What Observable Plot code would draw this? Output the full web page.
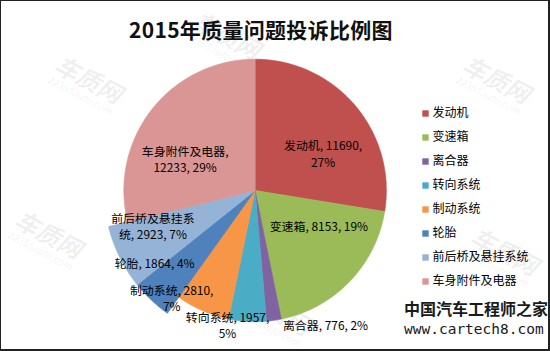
<!DOCTYPE html>
<html>
<head>
<meta charset="utf-8">
<script src="https://cdn.jsdelivr.net/npm/d3@7"></script>
<script src="https://cdn.jsdelivr.net/npm/@observablehq/plot@0.6"></script>
<style>
  body { margin: 0; background: #fff; }
  #frame { position: relative; width: 550px; height: 351px; box-sizing: border-box; border: 1px solid #222; border-bottom-width: 2px; border-right-width: 2px; overflow: hidden; background: #fff; font-family: "Noto Sans CJK SC", sans-serif; }
  #pie, #legend, #wm { position: absolute; }
  #pie, #wm { left: 0; top: 0; }
  #legend { left: 410px; top: 95px; }
  #title { position: absolute; left: 0; top: 13px; width: 520px; text-align: center; font-size: 21px; font-weight: bold; color: #111; letter-spacing: 0.3px; }
  #brand { position: absolute; left: 403px; top: 296px; width: 145px; color: #1a1a1a; }
  #brand .cn { font-size: 16px; font-weight: bold; line-height: 22px; font-family: "Noto Sans CJK SC", serif; }
  #brand .url { font-size: 14.5px; font-family: "DejaVu Sans Mono", "Liberation Mono", monospace; line-height: 20px; }
</style>
</head>
<body>
<div id="frame"></div>
<script>
// ---- data ----
const categories = ["发动机", "变速箱", "离合器", "转向系统", "制动系统", "轮胎", "前后桥及悬挂系统", "车身附件及电器"];
const values = [11690, 8153, 776, 1957, 2810, 1864, 2923, 12233];
const percents = [27, 19, 2, 5, 7, 4, 7, 29];
const title = "2015年质量问题投诉比例图";

// ---- styles / layout ----
const colors = ["#C0504D", "#9BBB59", "#8064A2", "#4BACC6", "#F79646", "#4F81BD", "#95B3D7", "#D99694"];
const pie = { cx: 255, cy: 190, r: 132 };
const radiusScale = { "轮胎": 1.15, "前后桥及悬挂系统": 1.15 };
const labelLayout = {
  "发动机":         { k: 0.6,  dx: 8,   dy: 14,  wrap: 11 },
  "变速箱":         { k: 0.6,  dx: 7,   dy: -19 },
  "离合器":         { k: 1.0,  dx: 9,   dy: 4,   anchor: "start" },
  "转向系统":       { k: 1.0,  dx: -20, dy: 3,   wrap: 11 },
  "制动系统":       { k: 0.85, dx: -39, dy: 5,   wrap: 11 },
  "轮胎":           { k: 0.75, dx: -33, dy: 1 },
  "前后桥及悬挂系统": { k: 0.75, dx: -14, dy: -8,  wrap: 7 },
  "车身附件及电器":   { k: 0.6,  dx: -8,  dy: 17,  wrap: 8 }
};
const font = "'Noto Sans CJK SC', sans-serif";

const frame = document.getElementById("frame");

// ---- faint watermarks (behind the chart), as rotated SVG text ----
const wmSpots = [[62, 50], [470, 50], [270, 148], [22, 205], [478, 222], [250, 282], [200, 6]];
const ns = "http://www.w3.org/2000/svg";
const wm = document.createElementNS(ns, "svg");
wm.setAttribute("id", "wm");
wm.setAttribute("width", 550);
wm.setAttribute("height", 351);
for (const [l, tp] of wmSpots) {
  const g = document.createElementNS(ns, "g");
  g.setAttribute("transform", `translate(${l},${tp}) rotate(28)`);
  g.setAttribute("fill", "#000");
  g.setAttribute("fill-opacity", "0.07");
  g.setAttribute("font-style", "italic");
  g.setAttribute("font-family", font);
  const a = document.createElementNS(ns, "text");
  a.setAttribute("y", 22); a.setAttribute("font-size", 24); a.setAttribute("font-weight", "bold");
  a.textContent = "车质网";
  const b = document.createElementNS(ns, "text");
  b.setAttribute("y", 35); b.setAttribute("font-size", 10);
  b.textContent = "12365auto.com";
  g.appendChild(a); g.appendChild(b);
  wm.appendChild(g);
}
frame.appendChild(wm);

// ---- pie geometry from data ----
const rows = categories.map((c, i) => ({ category: c, value: values[i], pct: percents[i] }));
const arcs = d3.pie().sort(null).value(d => d.value)(rows);
const slicePts = arcs.flatMap(a => {
  const s = radiusScale[a.data.category] ?? 1;
  const n = Math.max(2, Math.ceil((a.endAngle - a.startAngle) / (Math.PI / 360)));
  const pts = [{ category: a.data.category, x: 0, y: 0 }];
  for (let i = 0; i <= n; i++) {
    const t = a.startAngle + (a.endAngle - a.startAngle) * i / n;
    pts.push({ category: a.data.category, x: s * Math.sin(t), y: s * Math.cos(t) });
  }
  pts.push({ category: a.data.category, x: 0, y: 0 });
  return pts;
});

const labels = arcs.map(a => {
  const c = a.data.category;
  const L = labelLayout[c];
  const mid = (a.startAngle + a.endAngle) / 2;
  let s = `${c}, ${a.data.value}, ${a.data.pct}%`;
  if (L.wrap) s = s.slice(0, L.wrap).trim() + "\n" + s.slice(L.wrap).trim();
  return {
    category: c,
    text: s,
    anchor: L.anchor ?? "middle",
    x: L.k * Math.sin(mid) + L.dx / pie.r,
    y: L.k * Math.cos(mid) - L.dy / pie.r
  };
});

const piePlot = Plot.plot({
  width: 550,
  height: 351,
  margin: 0,
  style: { background: "transparent", fontFamily: font },
  x: { domain: [-1, 1], range: [pie.cx - pie.r, pie.cx + pie.r], axis: null },
  y: { domain: [-1, 1], range: [pie.cy + pie.r, pie.cy - pie.r], axis: null },
  color: { domain: categories, range: colors },
  marks: [
    Plot.line(slicePts, { x: "x", y: "y", z: "category", fill: "category", stroke: "category", strokeWidth: 0.6, curve: "linear" }),
    Plot.text(labels.filter(d => d.anchor === "middle"), { x: "x", y: "y", text: "text", textAnchor: "middle", fontSize: 12, lineHeight: 1.35, fill: "#000" }),
    Plot.text(labels.filter(d => d.anchor === "start"), { x: "x", y: "y", text: "text", textAnchor: "start", fontSize: 12, lineHeight: 1.35, fill: "#000" })
  ]
});
piePlot.id = "pie";
frame.appendChild(piePlot);

// ---- legend ----
const legendPlot = Plot.plot({
  width: 140,
  height: 200,
  margin: 0,
  style: { background: "transparent", fontFamily: font },
  y: { type: "point", domain: categories, range: [14, 188], padding: 0, axis: null },
  color: { domain: categories, range: colors },
  marks: [
    Plot.dot(categories, { y: d => d, frameAnchor: "left", dx: 14, symbol: "square", r: 3.6, fill: d => d, stroke: null }),
    Plot.text(categories, { y: d => d, frameAnchor: "left", dx: 21, text: d => d, textAnchor: "start", fontSize: 12, fill: "#000" })
  ]
});
legendPlot.id = "legend";
frame.appendChild(legendPlot);

// ---- title ----
const t = document.createElement("div");
t.id = "title";
t.textContent = title;
frame.appendChild(t);

// ---- site mark, bottom right ----
const brand = document.createElement("div");
brand.id = "brand";
brand.innerHTML = '<div class="cn">中国汽车工程师之家</div><div class="url">www.cartech8.com</div>';
frame.appendChild(brand);
</script>
</body>
</html>
